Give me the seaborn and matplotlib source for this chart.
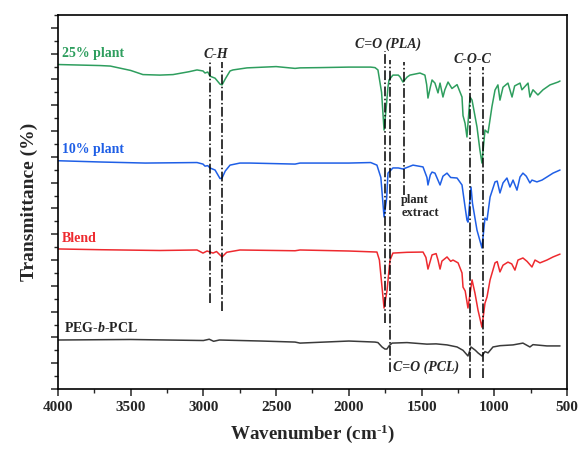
import numpy as np
import pandas as pd
import matplotlib
matplotlib.use("Agg")
import matplotlib.pyplot as plt
import seaborn as sns

# FTIR spectra (wavenumber in cm-1, transmittance in arbitrary offset units)
wn_plant25 = [4000, 3711, 3640, 3500, 3416, 3300, 3209, 3100, 3044, 3003, 2989, 2970, 2955, 2920,
              2886, 2872, 2850, 2817, 2797, 2700, 2500, 2370, 2336, 2200, 2000, 1850, 1820, 1800,
              1775, 1758, 1745, 1731, 1724, 1697, 1660, 1648, 1628, 1600, 1580, 1511, 1477, 1465,
              1456, 1440, 1428, 1408, 1387, 1373, 1353, 1340, 1318, 1291, 1256, 1222, 1215, 1201,
              1188, 1167, 1153, 1119, 1099, 1085, 1064, 1043, 1016, 995, 975, 961, 940, 906, 878,
              860, 823, 810, 768, 755, 734, 700, 665, 617, 562, 548]
t_plant25 = [125.8, 125.4, 125.2, 123.5, 121.9, 121.7, 121.9, 123.0, 123.7, 123.3, 122.5, 122.9, 121.3, 120.5,
             118.2, 117.9, 120.2, 123.3, 123.7, 124.5, 125.0, 124.3, 124.5, 124.6, 124.8, 124.8, 124.6, 123.7,
             115.0, 100.4, 108.0, 117.1, 119.8, 121.7, 121.7, 121.0, 119.0, 120.9, 121.7, 122.5, 121.7, 118.0,
             112.8, 117.0, 119.8, 118.6, 114.8, 118.6, 113.2, 116.0, 119.0, 116.5, 118.0, 113.2, 106.0, 103.0,
             97.7, 113.2, 112.0, 101.6, 92.7, 87.6, 100.4, 99.3, 109.5, 115.9, 117.9, 112.0, 117.0, 118.6, 113.2,
             117.5, 118.6, 116.0, 118.6, 113.2, 116.0, 114.0, 116.0, 117.9, 119.0, 119.4]

wn_plant10 = [4000, 3700, 3400, 3044, 3003, 2989, 2970, 2955, 2920, 2886, 2872, 2850, 2817, 2749, 2680,
              2370, 2336, 2000, 1850, 1807, 1780, 1758, 1740, 1731, 1697, 1660, 1628, 1600, 1559, 1490,
              1463, 1456, 1440, 1428, 1408, 1373, 1353, 1325, 1300, 1256, 1222, 1201, 1188, 1181, 1160,
              1150, 1119, 1085, 1064, 1050, 1029, 995, 980, 961, 940, 913, 892, 871, 844, 823, 803, 780,
              755, 741, 707, 672, 638, 596, 548]
t_plant10 = [88.5, 88.0, 87.6, 87.8, 87.2, 86.4, 86.6, 85.7, 84.9, 81.6, 81.8, 84.5, 86.8, 87.6, 87.6,
             87.2, 87.6, 87.6, 87.8, 86.8, 82.0, 66.7, 74.0, 83.7, 85.7, 85.7, 85.3, 85.9, 86.8, 86.1,
             82.0, 79.1, 83.0, 84.1, 83.7, 79.1, 82.5, 83.7, 82.0, 81.8, 79.1, 70.6, 65.5, 64.7, 78.3,
             72.0, 61.6, 54.7, 66.3, 65.5, 74.4, 80.3, 80.6, 76.0, 79.9, 81.8, 78.3, 81.0, 77.1, 82.2, 83.7, 82.5,
             79.9, 81.0, 80.3, 81.0, 82.2, 83.7, 84.9]

wn_blend = [4000, 3700, 3300, 3044, 3003, 2975, 2934, 2910, 2872, 2840, 2749, 2370, 2336, 2000, 1807,
            1790, 1758, 1738, 1717, 1697, 1600, 1490, 1470, 1456, 1428, 1400, 1387, 1373, 1360, 1325,
            1300, 1284, 1249, 1222, 1215, 1200, 1181, 1153, 1133, 1112, 1085, 1064, 1050, 1029, 995,
            980, 961, 940, 906, 880, 858, 837, 803, 775, 741, 720, 686, 638, 596, 548]
t_blend = [54.3, 54.0, 53.7, 53.9, 52.7, 53.5, 52.7, 53.3, 51.2, 53.0, 53.9, 53.6, 53.9, 53.5, 53.1,
           50.0, 31.4, 38.0, 50.0, 52.7, 53.0, 53.1, 51.0, 46.5, 52.0, 52.5, 50.0, 46.5, 49.6, 51.2,
           49.5, 50.0, 48.9, 45.0, 39.5, 38.0, 31.4, 42.3, 37.2, 30.6, 24.0, 33.3, 35.7, 42.3, 48.9,
           49.4, 45.4, 48.0, 49.2, 48.5, 46.1, 50.0, 50.8, 49.5, 47.3, 50.0, 48.9, 50.0, 51.2, 52.3]

wn_peg = [4000, 3500, 3000, 2960, 2930, 2890, 2600, 2370, 2336, 2000, 1820, 1800, 1772, 1752, 1738,
          1724, 1703, 1600, 1463, 1400, 1325, 1256, 1215, 1181, 1160, 1130, 1112, 1085, 1064, 1043,
          1009, 960, 871, 803, 755, 734, 638, 548]
t_peg = [19.0, 19.2, 18.8, 19.3, 18.5, 19.0, 18.6, 18.2, 17.8, 18.6, 18.2, 18.0, 16.3, 15.5, 15.5,
         16.7, 17.8, 18.0, 17.4, 17.5, 17.1, 16.3, 15.0, 12.8, 16.3, 15.0, 14.0, 12.8, 14.5, 14.0,
         16.3, 16.8, 17.1, 17.8, 16.3, 17.2, 16.7, 16.7]

series_names = ["25% plant", "10% plant", "Blend", "PEG-b-PCL"]
series_colors = ["#2e9e5e", "#1f5fe6", "#ee2a2f", "#3a3a3a"]

# marker lines: wavenumber, y start, y end
mark_wn = [2955, 2872, 1752, 1720, 1621, 1167, 1078]
mark_top = [127.6, 126.8, 131.0, 127.6, 126.8, 124.8, 124.8]
mark_bot = [33.3, 30.2, 25.6, 6.6, 75.2, 4.3, 4.3]

sns.set_style("ticks")
plt.rcParams["font.family"] = ["Liberation Serif", "DejaVu Serif"]
plt.rcParams["font.weight"] = "bold"
plt.rcParams["mathtext.fontset"] = "custom"
plt.rcParams["mathtext.rm"] = "Liberation Serif:bold"
plt.rcParams["mathtext.it"] = "Liberation Serif:bold:italic"
plt.rcParams["mathtext.bf"] = "Liberation Serif:bold"

fig = plt.figure(figsize=(5.84, 4.49), dpi=100)
ax = fig.add_axes([0.0993, 0.1336, 0.8716, 0.833])

all_x = [wn_plant25, wn_plant10, wn_blend, wn_peg]
all_y = [t_plant25, t_plant10, t_blend, t_peg]
for xs, ys, c in zip(all_x, all_y, series_colors):
    sns.lineplot(x=xs, y=ys, color=c, lw=1.1, estimator=None, sort=False, ax=ax)

for w, a, b in zip(mark_wn, mark_top, mark_bot):
    ax.plot([w, w], [b, a], color="black", lw=1.1, ls="-.")

ax.set_xlim(4000, 500)
ax.set_ylim(0, 145)
ax.set_xticks(np.arange(4000, 499, -500))
ax.set_xticks(np.arange(3750, 500, -500), minor=True)
ax.set_yticks(np.arange(0, 141, 10))
ax.set_yticks(np.arange(5, 146, 10), minor=True)
ax.set_yticklabels([])
ax.tick_params(axis="both", which="major", direction="out", length=5, width=1.1, labelsize=11)
ax.tick_params(axis="both", which="minor", direction="out", length=3, width=1.0)
for lab in ax.get_xticklabels():
    lab.set_fontweight("bold")
for s in ax.spines.values():
    s.set_linewidth(1.2)
    s.set_color("black")

ax.set_xlabel("Wavenumber (cm$^{\\text{-}1}$)", fontsize=13.7, fontweight="bold", labelpad=6)
ax.set_ylabel("Transmittance (%)", fontsize=14, fontweight="bold", labelpad=6)

lab_y = [129.9, 92.7, 58.5, 23.6]
lab_x = [3972, 3972, 3972, 3959]
lab_txt = ["25% plant", "10% plant", "Blend", "PEG-$\\it{b}$-PCL"]
for tx, x, y, c in zip(lab_txt, lab_x, lab_y, series_colors):
    ax.text(x, y, tx, color=c if c != "#3a3a3a" else "#222222", fontsize=10,
            fontweight="bold", ha="left", va="center")

ax.text(2914, 129.5, "C-H", fontsize=10, fontweight="bold", style="italic", ha="center", va="center")
ax.text(1731, 133.8, "C=O (PLA)", fontsize=10, fontweight="bold", style="italic", ha="center", va="center")
ax.text(1153, 127.9, "C-O-C", fontsize=10, fontweight="bold", style="italic", ha="center", va="center")
ax.text(1640, 73.3, "plant", fontsize=9, fontweight="bold", ha="left", va="center")
ax.text(1640, 68.2, "extract", fontsize=9, fontweight="bold", ha="left", va="center")
ax.text(1697, 8.5, "C=O (PCL)", fontsize=10, fontweight="bold", style="italic", ha="left", va="center")

fig.savefig("out.png", dpi=100)
